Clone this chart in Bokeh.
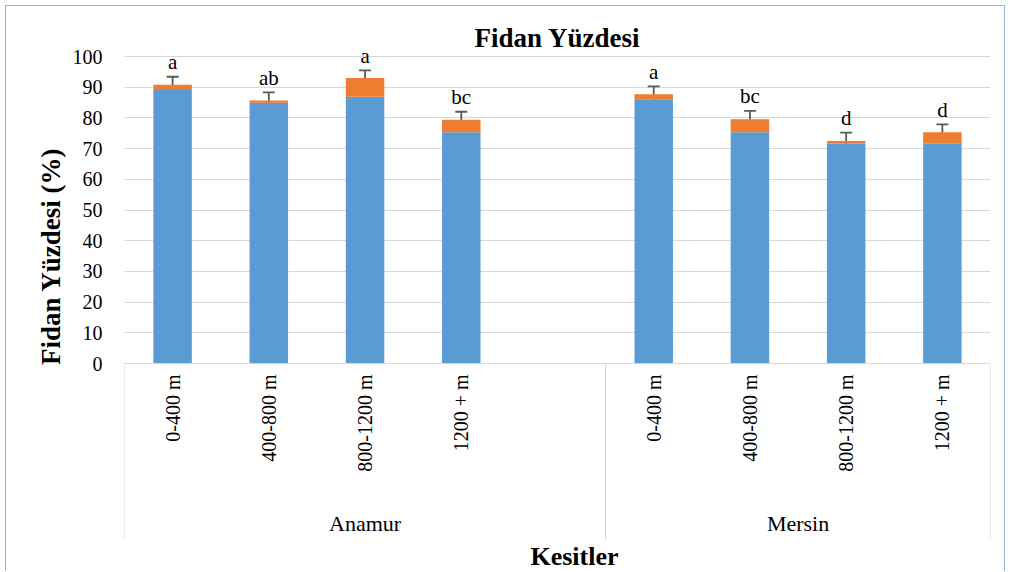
import math
from bokeh.plotting import figure
from bokeh.models import ColumnDataSource, FactorRange, Range1d, FixedTicker, Whisker, TeeHead, Title
from bokeh.core.properties import value
from bokeh.embed import file_html
from bokeh.resources import INLINE

# ---------------- data ----------------
groups = ["Anamur", "Mersin"]
anamur_cats = ["0-400 m", "400-800 m", "800-1200 m", "1200 + m"]
mersin_cats = ["0-400 m", "400-800 m", "800-1200 m", "1200 + m"]
blue_vals = [89.1, 84.9, 86.9, 75.3, 86.1, 75.3, 71.7, 71.6]
orange_vals = [1.7, 0.8, 6.1, 4.1, 1.6, 4.3, 0.8, 3.7]
err_vals = [2.6, 2.6, 2.5, 2.6, 2.6, 2.7, 2.7, 2.6]
letters = ["a", "ab", "a", "bc", "a", "bc", "d", "d"]
y_ticks = list(range(0, 101, 10))
title_text = "Fidan Yüzdesi"
y_title = "Fidan Yüzdesi (%)"
x_title = "Kesitler"

# ---------------- styles ----------------
FONT = "Liberation Serif"
BLUE = "#5b9bd5"
ORANGE = "#ed7d31"
GRID = "#d9d9d9"
ERR = "#595959"
FRAME_BORDER = "#8eb4e3"

W, H = 1000, 566
LEFT, RIGHT = 118, 16
TOP100_PX = 50         # pixel row (figure coords) of value 100
ZERO_PX = 357          # pixel row (figure coords) of value 0
PX_PER_UNIT = (ZERO_PX - TOP100_PX) / 100.0


def px_to_val(px):
    return (ZERO_PX - px) / PX_PER_UNIT


Y_TOP = px_to_val(0)
Y_BOTTOM = px_to_val(H)
SEP_BOTTOM = px_to_val(533)
GROUP_Y = px_to_val(517)
XTITLE_Y = px_to_val(550)
TITLE_Y = px_to_val(31)
LETTER_GAP = 14.7 / PX_PER_UNIT

# factors: Anamur has a trailing empty slot, as in the original chart
anamur_factors = [("Anamur", c) for c in anamur_cats] + [("Anamur", " ")]
mersin_factors = [("Mersin", c) for c in mersin_cats]
all_factors = anamur_factors + mersin_factors
bar_x = [("Anamur", c) for c in anamur_cats] + mersin_factors

totals = [b + o for b, o in zip(blue_vals, orange_vals)]
src = ColumnDataSource(dict(
    x=bar_x,
    blue=blue_vals,
    total=totals,
    upper=[t + e for t, e in zip(totals, err_vals)],
    lower=[t - e for t, e in zip(totals, err_vals)],
    label_y=[t + e + LETTER_GAP for t, e in zip(totals, err_vals)],
    letters=letters,
))

n_slots = len(all_factors)
p = figure(
    width=W, height=H,
    x_range=FactorRange(factors=all_factors, range_padding=0, factor_padding=0, group_padding=0),
    y_range=Range1d(Y_BOTTOM, Y_TOP),
    output_backend="svg", toolbar_location=None,
    min_border_left=LEFT, min_border_right=RIGHT, min_border_top=0, min_border_bottom=0,
)
p.outline_line_color = None
p.background_fill_color = "white"
p.border_fill_color = "white"
p.styles = {"margin-left": "5px", "margin-top": "5px",
            "border-left": f"1px solid {FRAME_BORDER}", "border-top": f"1px solid {FRAME_BORDER}",
            "border-right": f"1px solid {FRAME_BORDER}"}

# chart title (drawn inside the frame, centred on the plot area)
p.text(x=[n_slots / 2], y=[TITLE_Y], text=[title_text],
       text_align="center", text_baseline="middle", text_font=value(FONT),
       text_font_size="27px", text_font_style="bold", text_color="black")

# bars
p.vbar(x="x", top="blue", bottom=0, width=0.4, source=src, color=BLUE, line_color=None)
p.vbar(x="x", top="total", bottom="blue", width=0.4, source=src, color=ORANGE, line_color=None)

# error bars
wh = Whisker(source=src, base="x", upper="upper", lower="lower",
             line_color=ERR, line_width=1.8,
             upper_head=TeeHead(size=12, line_color=ERR, line_width=1.8),
             lower_head=TeeHead(size=12, line_color=ERR, line_width=1.8))
p.add_layout(wh)

# significance letters
p.text(x="x", y="label_y", text="letters", source=src, text_align="center",
       text_baseline="middle", text_font=value(FONT), text_font_size="21px",
       text_color="black")

# group separators & group labels (synthetic category coordinates)
counts = [len(anamur_factors), len(mersin_factors)]
bounds = [0]
for c in counts:
    bounds.append(bounds[-1] + c)
p.segment(x0=bounds, y0=[0] * len(bounds), x1=bounds, y1=[SEP_BOTTOM] * len(bounds),
          line_color=GRID, line_width=1.2)
centers = [(bounds[i] + bounds[i + 1]) / 2 for i in range(len(groups))]
p.text(x=centers, y=[GROUP_Y] * len(groups), text=groups,
       text_align="center", text_baseline="middle", text_font=value(FONT),
       text_font_size="22px", text_color="black")

# x title
p.text(x=[n_slots / 2], y=[XTITLE_Y], text=[x_title], x_offset=17,
       text_align="center", text_baseline="middle", text_font=value(FONT),
       text_font_size="26px", text_font_style="bold", text_color="black")

# x axis (drawn at value 0 inside the frame)
xa = p.xaxis[0]
xa.fixed_location = 0
xa.axis_line_color = GRID
xa.axis_line_width = 1.2
xa.major_tick_line_color = None
xa.minor_tick_line_color = None
xa.major_tick_out = 0
xa.major_label_orientation = math.pi / 2
xa.major_label_standoff = 11
xa.major_label_text_font = FONT
xa.major_label_text_font_size = "20px"
xa.major_label_text_color = "black"
xa.group_text_color = None
xa.separator_line_color = None

# y axis
ya = p.yaxis[0]
ya.ticker = FixedTicker(ticks=y_ticks)
ya.axis_line_color = None
ya.major_tick_line_color = None
ya.minor_tick_line_color = None
ya.major_tick_out = 0
ya.major_label_standoff = 22
ya.major_label_text_font = FONT
ya.major_label_text_font_size = "20px"
ya.major_label_text_color = "black"

ytitle = Title(text=y_title, align="right", offset=141, standoff=8,
               text_font=FONT, text_font_size="27px", text_font_style="bold",
               text_color="black")
p.add_layout(ytitle, "left")

p.xgrid.visible = False
p.ygrid.ticker = FixedTicker(ticks=y_ticks)
p.ygrid.grid_line_color = GRID
p.ygrid.grid_line_width = 1.2

open("out.html", "w").write(file_html(p, INLINE))
